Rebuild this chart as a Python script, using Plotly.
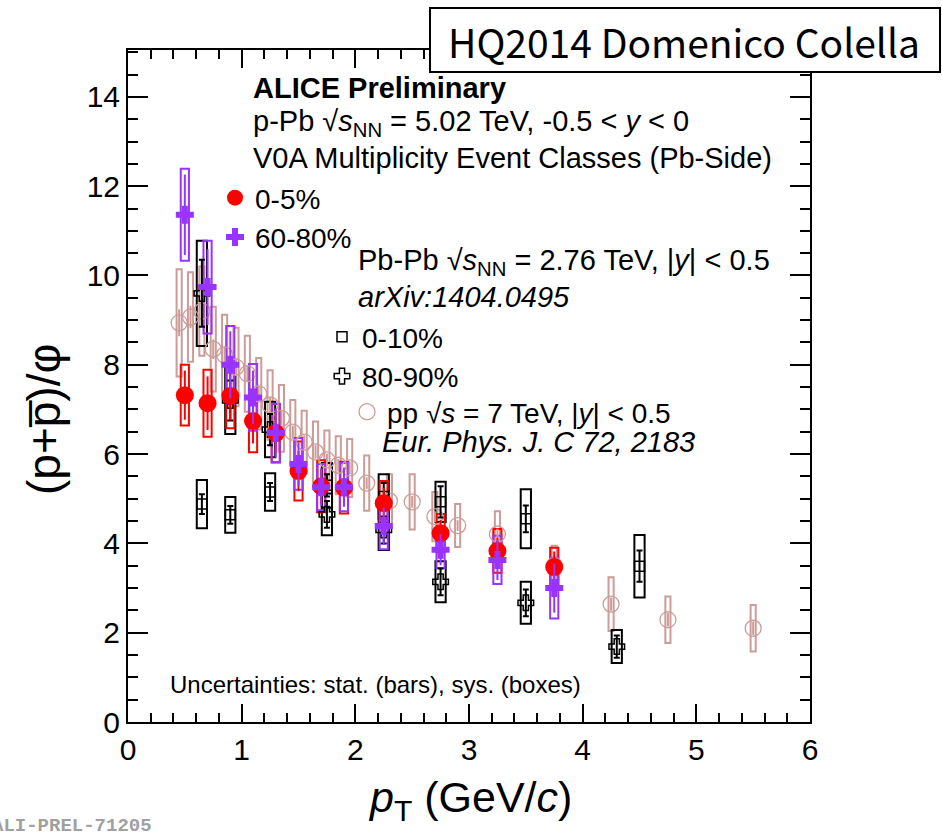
import numpy as np
import plotly.graph_objects as go

# ---------------- data ----------------
# p-Pb 5.02 TeV, V0A 0-5%
ppb_pt = [0.5, 0.7, 0.9, 1.1, 1.3, 1.5, 1.7, 1.9, 2.25, 2.75, 3.25, 3.75]
ppb_0_5 = [7.32, 7.14, 7.30, 6.74, 6.47, 5.62, 5.28, 5.25, 4.90, 4.23, 3.83, 3.47]
ppb_0_5_stat = [0.55, 0.60, 0.55, 0.50, 0.45, 0.45, 0.40, 0.40, 0.35, 0.30, 0.30, 0.35]
ppb_0_5_sys = [0.68, 0.75, 0.72, 0.70, 0.65, 0.66, 0.58, 0.58, 0.50, 0.43, 0.49, 0.43]
# p-Pb 5.02 TeV, V0A 60-80%
ppb_60_80 = [11.36, 9.74, 8.00, 7.27, 6.47, 5.78, 5.26, 5.26, 4.39, 3.86, 3.63, 3.00]
ppb_60_80_stat = [0.90, 0.85, 0.75, 0.60, 0.55, 0.48, 0.42, 0.44, 0.42, 0.35, 0.45, 0.55]
ppb_60_80_sys = [1.03, 1.04, 0.87, 0.75, 0.66, 0.58, 0.52, 0.54, 0.52, 0.41, 0.54, 0.68]

# Pb-Pb 2.76 TeV, 0-10%
pbpb_c_pt = [0.65, 0.9, 1.25, 1.75, 2.25, 2.75, 3.5, 4.5]
pbpb_0_10 = [4.88, 4.64, 5.15, 5.30, 5.05, 4.93, 4.55, 3.49]
pbpb_0_10_stat = [0.22, 0.20, 0.20, 0.25, 0.30, 0.35, 0.30, 0.35]
pbpb_0_10_sys = [0.54, 0.40, 0.42, 0.50, 0.50, 0.45, 0.66, 0.70]
# Pb-Pb 2.76 TeV, 80-90%
pbpb_p_pt = [0.65, 0.9, 1.25, 1.75, 2.25, 2.75, 3.5, 4.3]
pbpb_80_90 = [9.60, 7.20, 6.55, 4.65, 4.30, 3.14, 2.67, 1.69]
pbpb_80_90_stat = [0.75, 0.45, 0.35, 0.30, 0.30, 0.30, 0.30, 0.25]
pbpb_80_90_sys = [1.18, 0.75, 0.62, 0.47, 0.45, 0.46, 0.47, 0.37]

# pp 7 TeV
pp_pt = [0.45, 0.55, 0.65, 0.75, 0.85, 0.95, 1.05, 1.15, 1.25, 1.35, 1.45, 1.55, 1.65,
         1.75, 1.85, 1.95, 2.1, 2.3, 2.5, 2.7, 2.9, 3.25, 3.75, 4.25, 4.75, 5.5]
pp_val = [8.94, 9.07, 9.20, 8.35, 8.22, 7.95, 7.80, 7.35, 7.10, 6.80, 6.49, 6.27, 6.05,
          5.87, 5.75, 5.69, 5.35, 4.95, 4.93, 4.60, 4.40, 4.21, 3.50, 2.64, 2.29, 2.10]
pp_stat = [0.30, 0.25, 0.25, 0.22, 0.20, 0.20, 0.18, 0.18, 0.17, 0.16, 0.15, 0.15, 0.15,
           0.14, 0.14, 0.14, 0.13, 0.13, 0.13, 0.12, 0.12, 0.12, 0.12, 0.15, 0.15, 0.15]
pp_sys = [1.20, 1.00, 1.00, 0.95, 0.90, 0.88, 0.85, 0.80, 0.78, 0.75, 0.72, 0.70, 0.68,
          0.66, 0.65, 0.65, 0.62, 0.60, 0.62, 0.55, 0.48, 0.51, 0.45, 0.60, 0.52, 0.52]

x_ticks = [0, 1, 2, 3, 4, 5, 6]
y_ticks = [0, 2, 4, 6, 8, 10, 12, 14]

# ---------------- style ----------------
FONT = "Liberation Sans, Arial, Helvetica, sans-serif"
RED = "#ff0000"
PURPLE = "#9933ff"
BLACK = "#000000"
PINK = "#cc9c98"

W, H = 942, 832
L, R, T, B = 128, 132, 50, 110
PW, PH = W - L - R, H - T - B


def px(xp):
    return (xp - L) / PW


def py(yp):
    return (H - B - yp) / PH


fig = go.Figure()


def sys_boxes(x, y, sys, color, width):
    y = np.asarray(y)
    s = np.asarray(sys)
    fig.add_trace(go.Bar(x=x, y=2 * s, base=y - s, width=width,
                         marker=dict(color="rgba(0,0,0,0)", line=dict(color=color, width=2)),
                         showlegend=False, hoverinfo="skip"))


def points(x, y, stat, color, symbol, size, name, legend, lw=0, cap=0, show=True):
    fig.add_trace(go.Scatter(
        x=x, y=y, mode="markers", name=name, legend=legend, showlegend=show,
        marker=dict(symbol=symbol, size=size, color=color, line=dict(color=color, width=lw)),
        error_y=dict(type="data", array=stat, color=color, thickness=2, width=cap)))


# boxes (bars layer)
sys_boxes(pp_pt, pp_val, pp_sys, PINK, 0.045)
sys_boxes(pbpb_c_pt, pbpb_0_10, pbpb_0_10_sys, BLACK, 0.09)
sys_boxes(pbpb_p_pt, pbpb_80_90, pbpb_80_90_sys, BLACK, 0.09)
sys_boxes(ppb_pt, ppb_0_5, ppb_0_5_sys, RED, 0.072)
sys_boxes(ppb_pt, ppb_60_80, ppb_60_80_sys, PURPLE, 0.072)

# points
points(pp_pt, pp_val, pp_stat, PINK, "circle-open", 16,
       "pp √<i>s</i> = 7 TeV, |<i>y</i>| &lt; 0.5", "legend3", lw=1.3)
points(pbpb_c_pt, pbpb_0_10, pbpb_0_10_stat, BLACK, "square-open", 10, "0-10%", "legend2", lw=1.5, cap=3)
points(pbpb_p_pt, pbpb_80_90, pbpb_80_90_stat, BLACK, "cross-open", 13, "80-90%", "legend2", lw=1.5, cap=3)
points(ppb_pt, ppb_0_5, ppb_0_5_stat, RED, "circle", 18, "0-5%", "legend")
points(ppb_pt, ppb_60_80, ppb_60_80_stat, PURPLE, "cross", 15, "60-80%", "legend")

axis_common = dict(showgrid=False, zeroline=False, showline=True, linecolor=BLACK, linewidth=2,
                   mirror="allticks", ticks="inside", tickwidth=2, tickcolor=BLACK,
                   tickfont=dict(family=FONT, size=30, color=BLACK))

fig.update_xaxes(range=[0, 6], tickvals=x_ticks, ticklen=18,
                 minor=dict(dtick=0.2, ticks="inside", ticklen=9, tickwidth=2, tickcolor=BLACK),
                 **axis_common)
fig.update_yaxes(range=[0, 15.05], tickvals=y_ticks, ticklen=20,
                 minor=dict(dtick=0.5, ticks="inside", ticklen=10, tickwidth=2, tickcolor=BLACK),
                 **axis_common)

leg_common = dict(bgcolor="rgba(0,0,0,0)", borderwidth=0, xanchor="left", yanchor="top",
                  font=dict(family=FONT, size=28, color=BLACK), tracegroupgap=0)

annotations = []


def text(xp, yp, s, size=29, italic=False, bold=False, family=FONT, color=BLACK, xanchor="left"):
    if italic:
        s = "<i>" + s + "</i>"
    if bold:
        s = "<b>" + s + "</b>"
    annotations.append(dict(x=px(xp), y=py(yp), xref="paper", yref="paper", text=s, showarrow=False,
                            xanchor=xanchor, yanchor="middle",
                            font=dict(family=family, size=size, color=color)))


text(251, 88, "ALICE Preliminary", bold=True)
text(251, 123, "p-Pb √<i>s</i><sub>NN</sub> = 5.02 TeV, -0.5 &lt; <i>y</i> &lt; 0")
text(251, 158, "V0A Multiplicity Event Classes (Pb-Side)")
text(356, 262, "Pb-Pb √<i>s</i><sub>NN</sub> = 2.76 TeV, |<i>y</i>| &lt; 0.5")
text(356, 297, "arXiv:1404.0495", italic=True)
text(380, 442, "Eur. Phys. J. C 72, 2183", italic=True)
text(168, 684, "Uncertainties: stat. (bars), sys. (boxes)", size=24)
text(-10, 826, "<b>ALI-PREL-71205</b>", size=19, family="Liberation Mono, Courier New, monospace",
     color="#a0a0a0")
# axis titles
text(470, 800, "<i>p</i><sub>T</sub> (GeV/<i>c</i>)", size=43, xanchor="center")
annotations.append(dict(x=px(44), y=py(420), xref="paper", yref="paper",
                        text="(p+p\u0305)/φ", textangle=-90, showarrow=False,
                        xanchor="center", yanchor="middle",
                        font=dict(family=FONT, size=46, color=BLACK)))
# HQ box label
annotations.append(dict(x=px(684), y=py(41), xref="paper", yref="paper",
                        text="HQ2014 Domenico Colella", showarrow=False,
                        xanchor="center", yanchor="middle",
                        font=dict(family="Noto Sans CJK JP, sans-serif", size=39, color=BLACK)))

shapes = [dict(type="rect", xref="paper", yref="paper", x0=px(430), x1=px(940), y0=py(72), y1=py(8),
               line=dict(color=BLACK, width=2), fillcolor="white", layer="above")]

fig.update_layout(
    width=W, height=H, margin=dict(l=L, r=R, t=T, b=B),
    paper_bgcolor="white", plot_bgcolor="white", barmode="overlay",
    font=dict(family=FONT, color=BLACK),
    annotations=annotations, shapes=shapes,
    legend=dict(x=px(215), y=py(173), **leg_common),
    legend2=dict(x=px(322), y=py(312), **leg_common),
    legend3=dict(x=px(347), y=py(387), **leg_common),
)

fig.write_html("out.html")
